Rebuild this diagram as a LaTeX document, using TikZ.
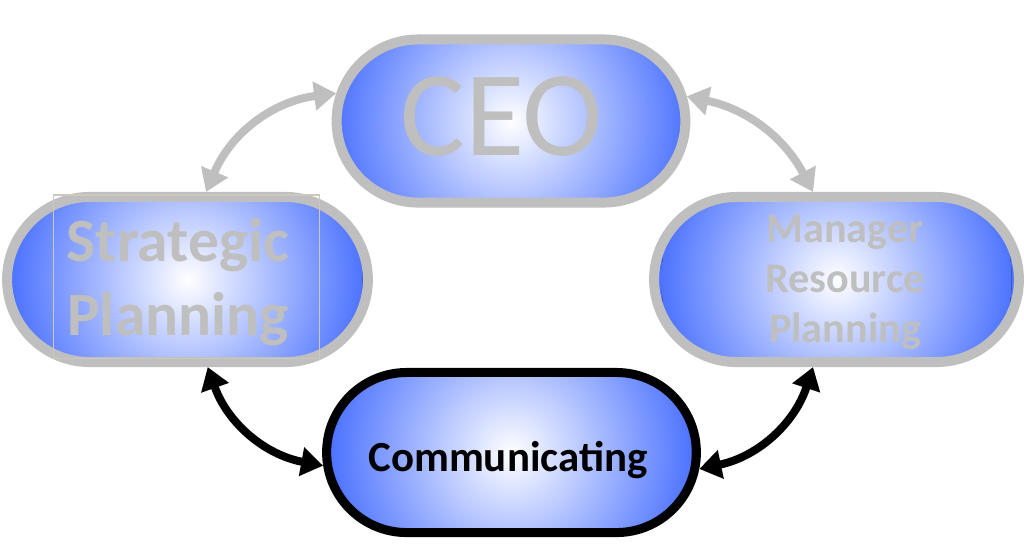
\documentclass[tikz,border=0pt]{standalone}
\usepackage{fontspec}
\setmainfont{Carlito}
\usetikzlibrary{shapes.misc,arrows.meta}
\definecolor{nodeblue}{RGB}{78,116,255}
\definecolor{bordergray}{RGB}{191,191,191}
\definecolor{boxgray}{RGB}{205,200,190}
\tikzset{
  pill/.style={rounded rectangle, draw=bordergray, line width=0.1cm,
    path picture={\fill[nodeblue] (path picture bounding box.south west) rectangle (path picture bounding box.north east);
      \fill[inner color=white, outer color=nodeblue]
      (path picture bounding box.center) circle[radius=#1];}},
  gtext/.style={text=bordergray, inner sep=0pt},
  garrow/.style={draw=bordergray, line width=0.08cm,
    {Triangle[length=0.22cm,width=0.28cm]}-{Triangle[length=0.22cm,width=0.28cm]}},
  barrow/.style={draw=black, line width=0.08cm,
    {Triangle[length=0.22cm,width=0.28cm]}-{Triangle[length=0.22cm,width=0.28cm]}}
}
\begin{document}
\begin{tikzpicture}[x=0.01cm,y=-0.01cm]
\useasboundingbox (0,0) rectangle (1024,547);
% pills
\node[pill=1.75cm, minimum width=3.72cm, minimum height=1.63cm] (ceo) at (511,121) {};
\node[pill=1.75cm, minimum width=3.84cm, minimum height=1.65cm] (strat) at (187.5,279.5) {};
\node[pill=1.75cm, minimum width=3.88cm, minimum height=1.65cm] (mgr) at (836.5,279.5) {};
\node[pill=1.8cm, draw=black, line width=0.09cm, minimum width=3.93cm, minimum height=1.60cm] (comm) at (511.5,452.5) {};
% thin text box in strategic planning
\node[draw=boxgray, line width=0.3pt, minimum width=2.65cm, minimum height=1.63cm, inner sep=0pt] (stratbox) at (186.5,276.5) {};
% texts
\node[gtext, font=\fontsize{34.5}{40}\selectfont, anchor=base] (ceotxt) at (502,155) {CEO};
\node[gtext, font=\bfseries\fontsize{17.5}{21}\selectfont, align=center] (strattxt) at (178,282.5) {Strategic\\Planning};
\node[gtext, font=\bfseries\fontsize{12}{14.2}\selectfont, align=center] (mgrtxt) at (845,282.5) {Manager\\Resource\\Planning};
\node[inner sep=0pt, font=\bfseries\fontsize{12.2}{14}\selectfont, anchor=base] (commtxt) at (508,471) {Communicating};
% connectors
\draw[garrow] (strat.78.6) to[bend left=30] (ceo.171);
\draw[garrow] (ceo.8.7) to[bend left=25] (mgr.105.8);
\draw[barrow] (strat.-77.7) to[bend right=30] (comm.184.6);
\draw[barrow] (comm.-5.5) to[bend right=30] (mgr.255.6);
\end{tikzpicture}
\end{document}
